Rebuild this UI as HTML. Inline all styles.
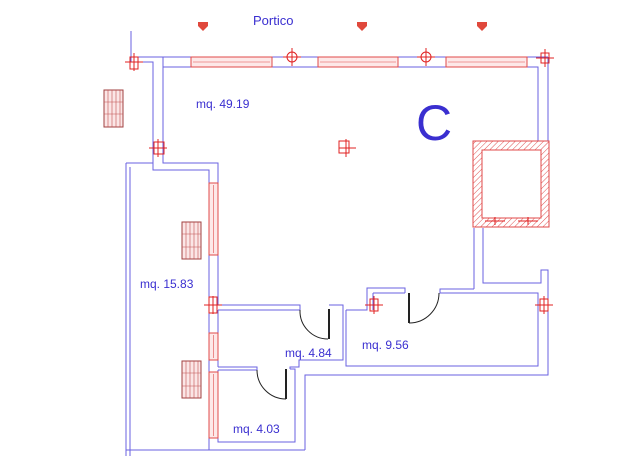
<!DOCTYPE html>
<html><head><meta charset="utf-8"><style>
html,body{margin:0;padding:0;background:#fff;}
svg{display:block}
text{font-family:"Liberation Sans",sans-serif;fill:#3a2fd0}
</style></head><body>
<svg width="640" height="476" viewBox="0 0 640 476" xmlns="http://www.w3.org/2000/svg">
<defs>
<pattern id="h" width="4" height="4" patternUnits="userSpaceOnUse" patternTransform="rotate(45)"><line x1="0" y1="0" x2="0" y2="4" stroke="#e05050" stroke-width="1"/></pattern>
</defs>
<g fill="none" stroke="#6a62e0" stroke-width="1">
<polyline points="131,31 131,62 153,62 153,170 209,170 209,450"/>
<polyline points="135,57 163,57 163,67 538,67 538,141"/>
<polyline points="163,67 163,163 218,163 218,305"/>
<line x1="163" y1="57" x2="548" y2="57"/>
<line x1="548" y1="57" x2="548" y2="141"/>
<line x1="126" y1="163" x2="153" y2="163"/>
<line x1="126" y1="163" x2="126" y2="456"/>
<line x1="130" y1="167" x2="130" y2="456"/>
<line x1="126" y1="450" x2="305" y2="450"/>
<polyline points="305,450 305,375 548,375 548,270 541,270 541,283 483,283 483,228"/>
<line x1="474" y1="228" x2="474" y2="289"/>
<polyline points="218,305 300,305 300,310 218,310"/>
<polyline points="218,310 218,367"/>
<polyline points="329,305 343,305 343,360 299,360 299,367 290,367 290,369"/>
<polyline points="218,367 257,367 257,370 218,370"/>
<polyline points="290,369 295,369 295,442 218,442 218,370"/>
<polyline points="346,310 346,366 538,366 538,293 440,293 440,289 474,289"/>
<polyline points="405,293 405,288 367,288 367,310 346,310"/>
<polyline points="373,293 405,293"/>
<line x1="373" y1="293" x2="373" y2="310"/>
</g>
<g fill="none" stroke="#222" stroke-width="1">
<path d="M300,310 A28,28 0 0 0 328,339"/>
<line x1="329" y1="309" x2="329" y2="339" stroke-width="2"/>
<path d="M257,370 A29,29 0 0 0 286,399"/>
<line x1="286" y1="369" x2="286" y2="399" stroke-width="2"/>
<path d="M439,293 A30,30 0 0 1 409,323"/>
<line x1="409" y1="293" x2="409" y2="323" stroke-width="2"/>
</g>
<g fill="#fde8e8" stroke="#e04a4a" stroke-width="1">
<rect x="191" y="57" width="81" height="10"/>
<rect x="318" y="57" width="80" height="10"/>
<rect x="446" y="57" width="81" height="10"/>
<rect x="209" y="183" width="9" height="72"/>
<rect x="209" y="333" width="9" height="27"/>
<rect x="209" y="372" width="9" height="66"/>
</g>
<g stroke="#e04a4a" stroke-width="0.6">
<line x1="193" y1="62" x2="270" y2="62"/><line x1="320" y1="62" x2="396" y2="62"/><line x1="448" y1="62" x2="525" y2="62"/>
<line x1="213.5" y1="185" x2="213.5" y2="253"/><line x1="213.5" y1="335" x2="213.5" y2="358"/><line x1="213.5" y1="374" x2="213.5" y2="436"/>
</g>
<g stroke="#e02020" stroke-width="1" fill="none">
<g transform="translate(292,57)"><circle r="5"/><line x1="-9" y1="0" x2="9" y2="0"/><line x1="0" y1="-9" x2="0" y2="9"/></g>
<g transform="translate(426,57)"><circle r="5"/><line x1="-9" y1="0" x2="9" y2="0"/><line x1="0" y1="-9" x2="0" y2="9"/></g>
<g transform="translate(545,58)"><rect x="-4" y="-5" width="8" height="10"/><line x1="-9" y1="0" x2="9" y2="0"/><line x1="0" y1="-9" x2="0" y2="9"/></g>
<g transform="translate(134,62)"><rect x="-4" y="-5" width="8" height="12"/><line x1="-9" y1="0" x2="9" y2="0"/><line x1="0" y1="-9" x2="0" y2="9"/></g>
<g transform="translate(158,148)"><rect x="-4" y="-6" width="10" height="12"/><line x1="-9" y1="0" x2="9" y2="0"/><line x1="0" y1="-9" x2="0" y2="9"/></g>
<g transform="translate(346,148)"><rect x="-7" y="-7" width="10" height="12"/><line x1="-7" y1="0" x2="10" y2="0"/><line x1="0" y1="-9" x2="0" y2="9"/></g>
<g transform="translate(213,305)"><rect x="-4" y="-8" width="8" height="16"/><line x1="-9" y1="0" x2="9" y2="0"/><line x1="0" y1="-9" x2="0" y2="9"/></g>
<g transform="translate(374,305)"><rect x="-4" y="-6" width="8" height="12"/><line x1="-9" y1="0" x2="9" y2="0"/><line x1="0" y1="-9" x2="0" y2="9"/></g>
<g transform="translate(544,305)"><rect x="-4" y="-6" width="8" height="12"/><line x1="-9" y1="0" x2="9" y2="0"/><line x1="0" y1="-9" x2="0" y2="9"/></g>
</g>
<rect x="473" y="141" width="76" height="86" fill="url(#h)" stroke="#e04a4a"/>
<rect x="482" y="150" width="59" height="68" fill="#fff" stroke="#e04a4a"/>
<g stroke="#e02020" stroke-width="1"><line x1="485" y1="221" x2="505" y2="221"/><line x1="495" y1="217" x2="495" y2="225"/><line x1="518" y1="221" x2="538" y2="221"/><line x1="528" y1="217" x2="528" y2="225"/></g>
<g fill="#fbe6e6" stroke="#a04040" stroke-width="1">
<rect x="104" y="90" width="19" height="37"/>
<rect x="182" y="222" width="19" height="37"/>
<rect x="182" y="361" width="19" height="37"/>
</g>
<g stroke="#c05050" stroke-width="0.6">
<path d="M108,90V127M112,90V127M116,90V127M120,90V127M104,102H123M104,114H123"/>
<path d="M186,222V259M190,222V259M194,222V259M198,222V259M182,234H201M182,247H201"/>
<path d="M186,361V398M190,361V398M194,361V398M198,361V398M182,373H201M182,386H201"/>
</g>
<g fill="#e0483c"><path d="M198,22h10v4l-5,5l-5,-5z"/><path d="M357,22h10v4l-5,5l-5,-5z"/><path d="M477,22h10v4l-5,5l-5,-5z"/></g>
<text x="253" y="25" font-size="13">Portico</text>
<text x="196" y="108" font-size="12">mq. 49.19</text>
<text x="416" y="140" font-size="50">C</text>
<text x="140" y="288" font-size="12">mq. 15.83</text>
<text x="285" y="357" font-size="12">mq. 4.84</text>
<text x="362" y="349" font-size="12">mq. 9.56</text>
<text x="233" y="433" font-size="12">mq. 4.03</text>
</svg>
</body></html>
